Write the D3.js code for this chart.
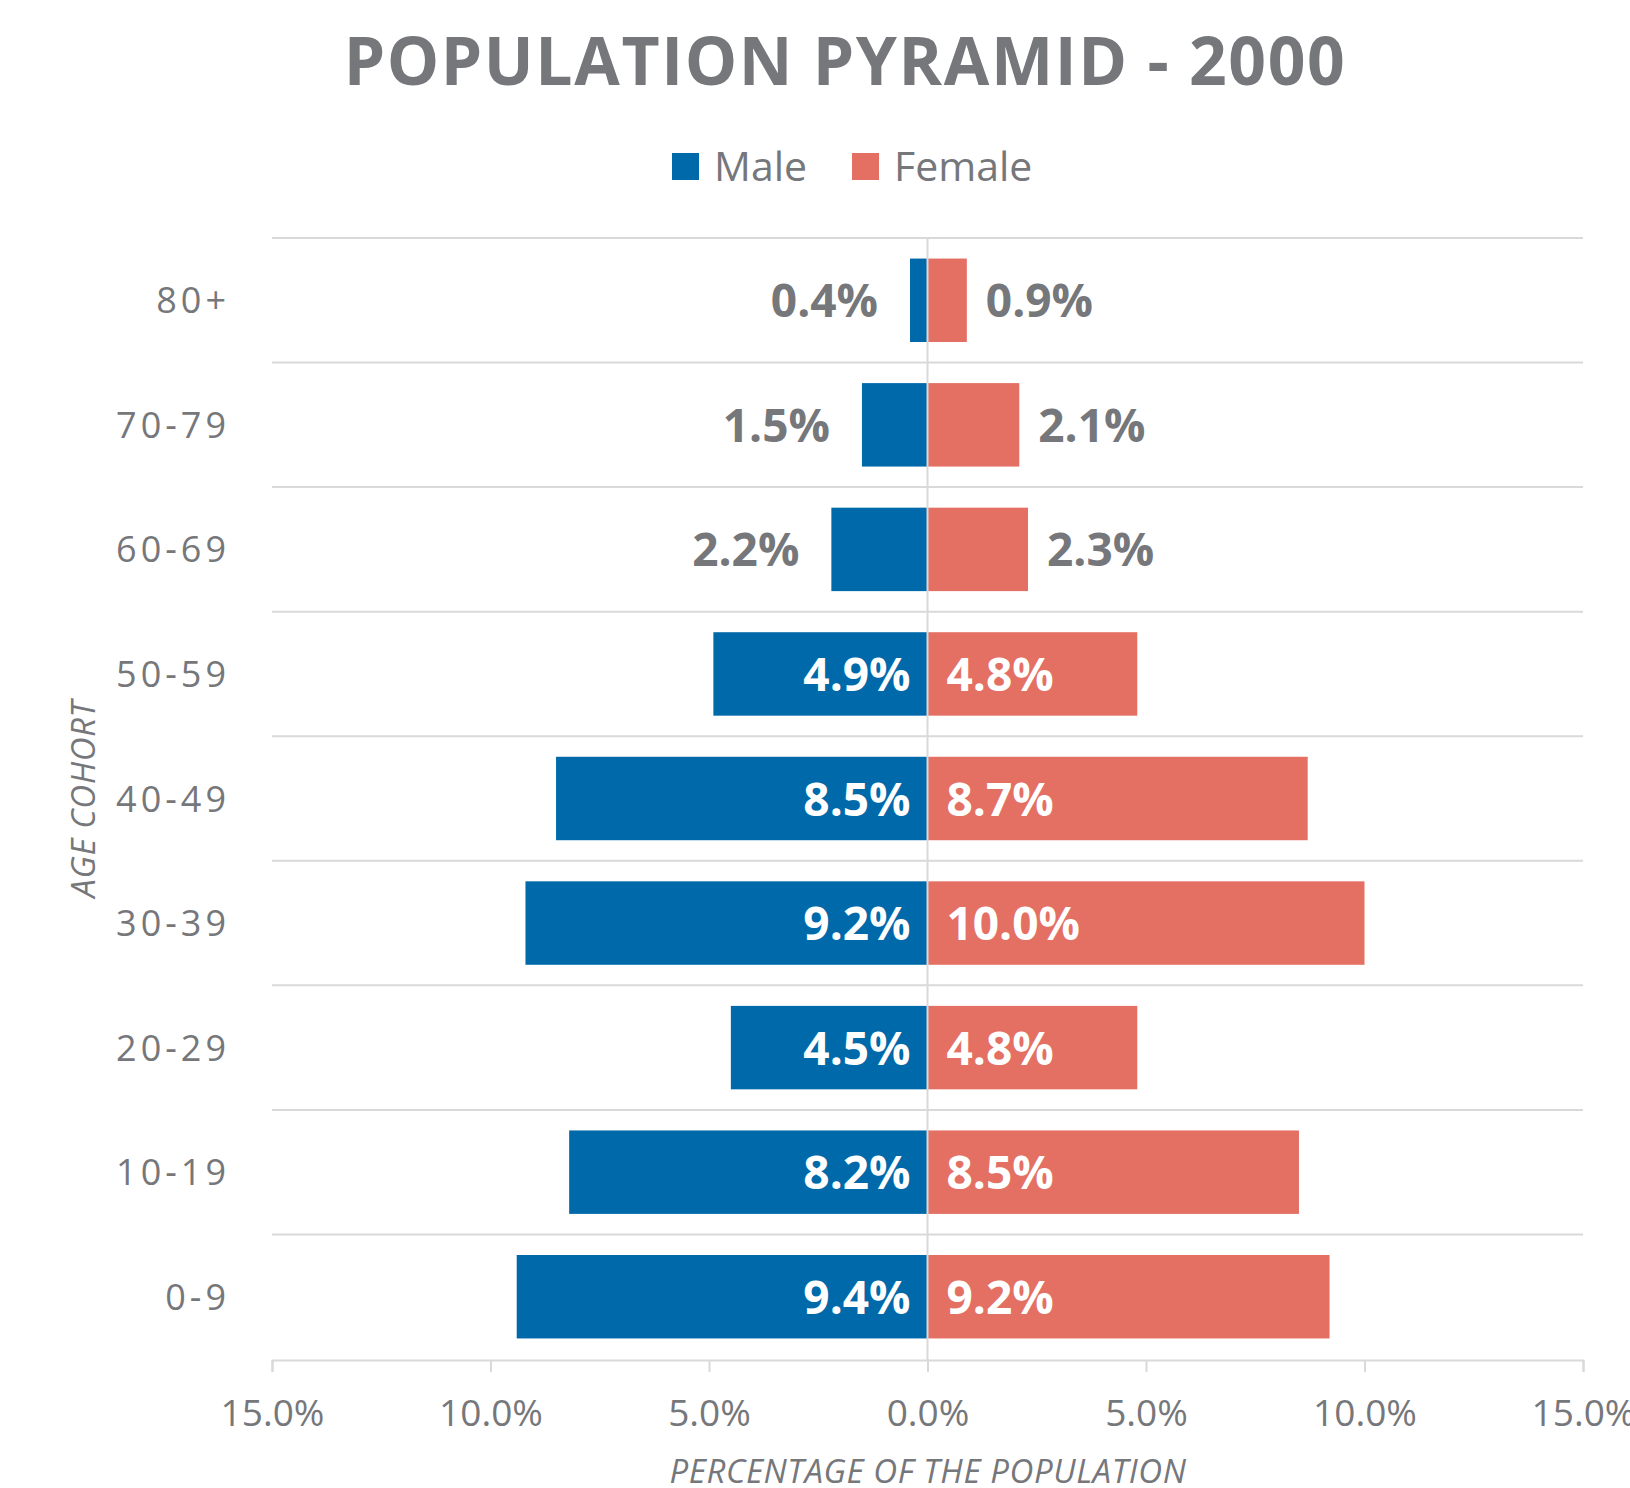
<!DOCTYPE html>
<html lang="en">
<head>
<meta charset="UTF-8">
<script src="https://cdnjs.cloudflare.com/ajax/libs/d3/7.8.5/d3.min.js"></script>
<style>
  body { margin: 0; background: #fff; }
  text { font-family: "Open Sans", "Noto Sans", sans-serif; }
</style>
</head>
<body>
<div id="chart"></div>
<script>
    var ageGroups = ["80+", "70-79", "60-69", "50-59", "40-49", "30-39", "20-29", "10-19", "0-9"];
    var maleValues = [0.4, 1.5, 2.2, 4.9, 8.5, 9.2, 4.5, 8.2, 9.4];
    var femaleValues = [0.9, 2.1, 2.3, 4.8, 8.7, 10.0, 4.8, 8.5, 9.2];
    var xTicks = [-15, -10, -5, 0, 5, 10, 15];
    var seriesNames = ["Male", "Female"];

    var W = 1630, H = 1488;
    var grey = "#76777b";
    var maleColor = "#0069aa";
    var femaleColor = "#e46f63";
    var gridColor = "#d9d9d9";

    var svg = d3.select("#chart").append("svg")
        .attr("width", W)
        .attr("height", H);

    var x = d3.scaleLinear().domain([-15, 15]).range([272, 1583]);
    var y = d3.scaleBand().domain(ageGroups).range([238, 1359]).paddingInner(0.33).paddingOuter(0.165);

    // title
    svg.append("text")
        .attr("x", 845)
        .attr("y", 85)
        .attr("text-anchor", "middle")
        .attr("font-size", 66)
        .attr("font-weight", "bold")
        .attr("letter-spacing", 1.6)
        .attr("fill", grey)
        .text("POPULATION PYRAMID - 2000");

    // legend
    var legend = svg.append("g");
    var legendX = [672, 852];
    seriesNames.forEach(function (name, i) {
        legend.append("rect")
            .attr("x", legendX[i])
            .attr("y", 153)
            .attr("width", 27)
            .attr("height", 27)
            .attr("fill", i === 0 ? maleColor : femaleColor);
        legend.append("text")
            .attr("x", legendX[i] + 42)
            .attr("y", 181)
            .attr("font-size", 41)
            .attr("fill", grey)
            .text(name);
    });

    // horizontal gridlines between rows
    var step = y.step();
    var gridY = d3.range(ageGroups.length).map(function (i) { return 238 + i * step; });
    svg.append("g").selectAll("line")
        .data(gridY)
        .join("line")
        .attr("x1", x(-15))
        .attr("x2", x(15))
        .attr("y1", function (d) { return d; })
        .attr("y2", function (d) { return d; })
        .attr("stroke", gridColor)
        .attr("stroke-width", 2);

    // bars
    svg.append("g").selectAll("rect")
        .data(maleValues)
        .join("rect")
        .attr("x", function (d) { return x(-d); })
        .attr("y", function (d, i) { return y(ageGroups[i]); })
        .attr("width", function (d) { return x(0) - x(-d); })
        .attr("height", y.bandwidth())
        .attr("fill", maleColor);

    svg.append("g").selectAll("rect")
        .data(femaleValues)
        .join("rect")
        .attr("x", x(0))
        .attr("y", function (d, i) { return y(ageGroups[i]); })
        .attr("width", function (d) { return x(d) - x(0); })
        .attr("height", y.bandwidth())
        .attr("fill", femaleColor);

    // center line
    svg.append("line")
        .attr("x1", x(0))
        .attr("x2", x(0))
        .attr("y1", 238)
        .attr("y2", 1360)
        .attr("stroke", gridColor)
        .attr("stroke-width", 2);

    // data labels
    var fmt = function (d) { return d.toFixed(1) + "%"; };
    var small = 3;
    svg.append("g").selectAll("text")
        .data(maleValues)
        .join("text")
        .attr("x", function (d) { return d < small ? x(-d) - 32 : x(0) - 17; })
        .attr("y", function (d, i) { return y(ageGroups[i]) + y.bandwidth() / 2 + 17; })
        .attr("text-anchor", "end")
        .attr("font-size", 46)
        .attr("font-weight", "bold")
        .attr("fill", function (d) { return d < small ? grey : "#fff"; })
        .text(fmt);

    svg.append("g").selectAll("text")
        .data(femaleValues)
        .join("text")
        .attr("x", function (d) { return d < small ? x(d) + 19 : x(0) + 19; })
        .attr("y", function (d, i) { return y(ageGroups[i]) + y.bandwidth() / 2 + 17; })
        .attr("text-anchor", "start")
        .attr("font-size", 46)
        .attr("font-weight", "bold")
        .attr("fill", function (d) { return d < small ? grey : "#fff"; })
        .text(fmt);

    // y axis labels
    svg.append("g").selectAll("text")
        .data(ageGroups)
        .join("text")
        .attr("x", 230)
        .attr("y", function (d) { return y(d) + y.bandwidth() / 2 + 13; })
        .attr("text-anchor", "end")
        .attr("font-size", 36)
        .attr("letter-spacing", 4)
        .attr("fill", grey)
        .text(function (d) { return d; });

    // x axis
    var xAxis = svg.append("g")
        .attr("transform", "translate(0,1360)")
        .call(d3.axisBottom(x)
            .tickValues(xTicks)
            .tickSize(12)
            .tickPadding(28)
            .tickFormat(function (d) { return Math.abs(d).toFixed(1) + "%"; }));
    xAxis.select(".domain").attr("stroke", gridColor).attr("stroke-width", 2);
    xAxis.selectAll(".tick line").attr("stroke", gridColor).attr("stroke-width", 2);
    xAxis.selectAll(".tick text")
        .attr("font-size", 37)
        .attr("font-family", "'Open Sans', sans-serif")
        .attr("fill", grey);

    // axis titles
    svg.append("text")
        .attr("x", 928)
        .attr("y", 1483)
        .attr("text-anchor", "middle")
        .attr("font-size", 33)
        .attr("letter-spacing", 0.6)
        .attr("font-style", "italic")
        .attr("fill", grey)
        .text("PERCENTAGE OF THE POPULATION");

    svg.append("text")
        .attr("transform", "translate(95,799) rotate(-90)")
        .attr("text-anchor", "middle")
        .attr("font-size", 33)
        .attr("letter-spacing", 0.6)
        .attr("font-style", "italic")
        .attr("fill", grey)
        .text("AGE COHORT");
</script>
</body>
</html>
